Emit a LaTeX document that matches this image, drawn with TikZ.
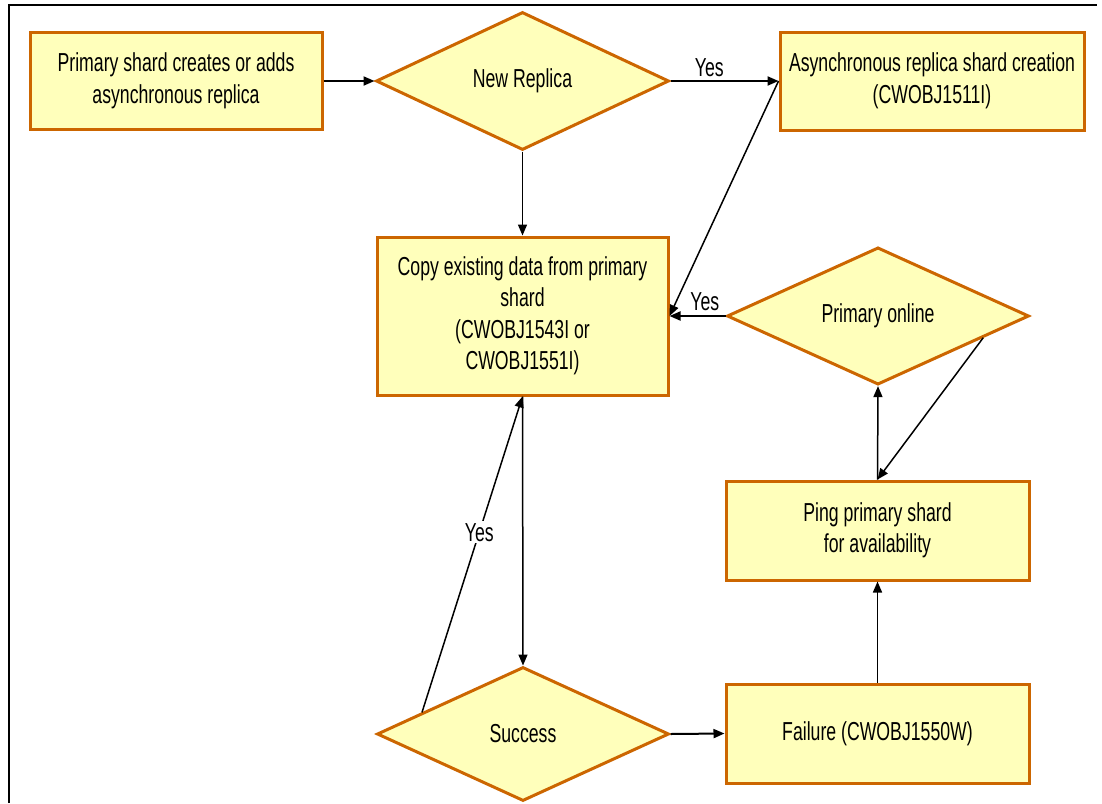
\documentclass[tikz,border=0pt]{standalone}
\usepackage{fontspec}
\setmainfont{Liberation Sans}[FakeStretch=0.68]
\usetikzlibrary{shapes.geometric,arrows.meta,calc}
\definecolor{boxedge}{RGB}{204,102,0}
\definecolor{boxfill}{RGB}{255,255,187}
\begin{document}
\begin{tikzpicture}[x=1pt,y=-1pt,
  every node/.style={font=\fontsize{26}{31.5}\selectfont, align=center},
  procbox/.style={draw=boxedge, fill=boxfill, line width=3pt, rectangle,
    inner sep=0pt, minimum width=#1},
  decision/.style={draw=boxedge, fill=boxfill, line width=3pt, diamond,
    inner sep=0pt},
  flow/.style={line width=2pt, -{Triangle[length=11pt,width=9pt]}},
  link/.style={line width=1.5pt, -{Triangle[length=11pt,width=9pt]}},
  yeslabel/.style={fill=white, inner sep=2pt}
]
% canvas and frame
\useasboundingbox (0,0) rectangle (1102,803);
\fill[white] (0,0) rectangle (1102,803);
\draw[line width=1.5pt] (9,803) -- (9,5) -- (1097,5);

% process boxes
\node[procbox=292pt, minimum height=97pt] (start) at (176,81)
  {Primary shard creates or adds\\asynchronous replica};
\node[procbox=304pt, minimum height=98pt] (async) at (932,81)
  {Asynchronous replica shard creation\\(CWOBJ1511I)};
\node[procbox=291pt, minimum height=158pt] (copy) at (522.5,316)
  {Copy existing data from primary\\shard\\(CWOBJ1543I or\\CWOBJ1551I)};
\node[procbox=303pt, minimum height=99pt] (ping) at (877.5,530.5)
  {Ping primary shard\\for availability};
\node[procbox=303pt, minimum height=99pt] (fail) at (877.5,733.5)
  {Failure (CWOBJ1550W)};

% decisions
\node[decision, minimum width=293pt, minimum height=138pt] (newrep) at (522.5,81)
  {New Replica};
\node[decision, minimum width=302pt, minimum height=136pt] (online) at (878,316)
  {Primary online};
\node[decision, minimum width=292pt, minimum height=134pt] (success) at (523,734)
  {Success};

% connectors
\draw[flow] (start.east) -- (newrep.west);
\draw[flow] (newrep.east) -- node[above=3pt, inner sep=0pt, pos=0.36] {Yes} (async.west);
\draw[link] (newrep.south) -- (copy.north);
\draw[link] (async.west) -- (copy.east);
\draw[flow] (online.west) -- node[above=4pt, inner sep=0pt, pos=0.37] {Yes} (copy.east);
\draw[link] (ping.north) -- (online.south);
\coordinate (onlineedge) at ($(online.east)!0.31!(online.south)$);
\draw[link] (onlineedge) -- (ping.north);
\draw[link] (copy.south) -- (success.north);
\coordinate (successedge) at ($(success.west)!0.315!(success.north)$);
\draw[link] (successedge) -- node[yeslabel, pos=0.57] {Yes} (copy.south);
\draw[flow] (success.east) -- (fail.west);
\draw[link] (fail.north) -- (ping.south);
\end{tikzpicture}
\end{document}
